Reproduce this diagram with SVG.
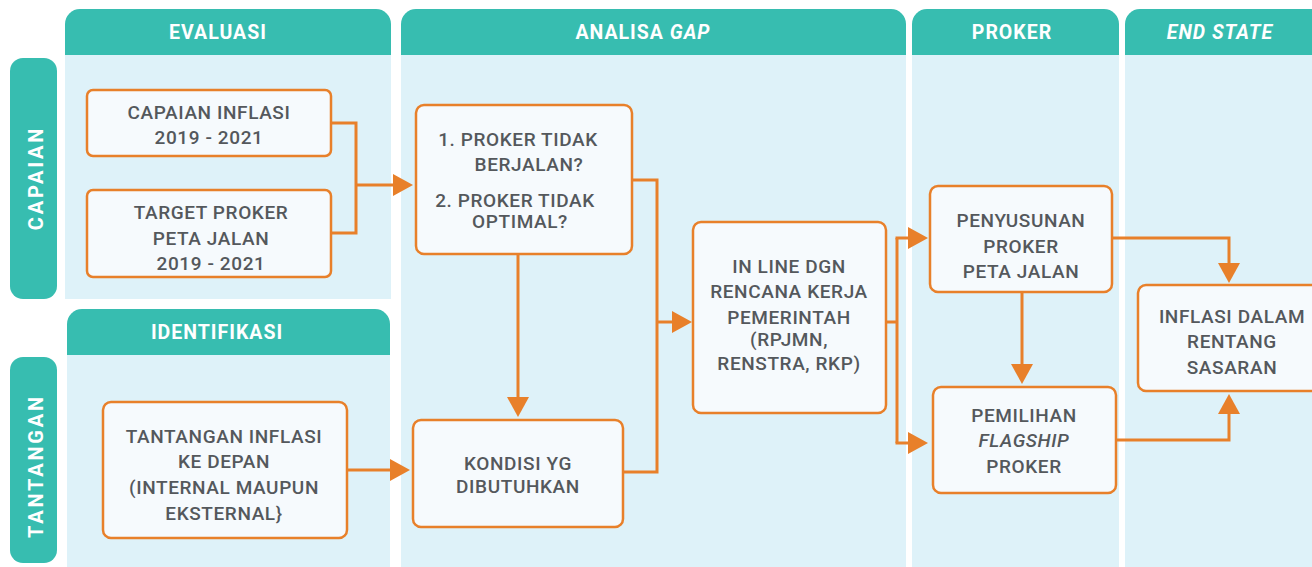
<svg xmlns="http://www.w3.org/2000/svg" width="1312" height="567" viewBox="0 0 1312 567">
<defs>
<style>
.hdr{fill:#37BDB0}
.body{fill:#DEF2F9}
.box{fill:#F6FAFD;stroke:#E8802A;stroke-width:2.5}
.ht{font-family:"Roboto","Liberation Sans",sans-serif;font-weight:700;font-size:19.5px;fill:#FFFFFF;text-anchor:middle;letter-spacing:1px}
.vt{font-family:"Roboto","Liberation Sans",sans-serif;font-weight:700;font-size:20px;fill:#FFFFFF;text-anchor:middle;letter-spacing:2.8px}
.t{font-family:"Roboto","Liberation Sans",sans-serif;font-weight:500;font-size:19px;fill:#54585C;text-anchor:middle;letter-spacing:0.6px}
.c{fill:none;stroke:#E8802A;stroke-width:3}
.a{marker-end:url(#ah)}
</style>
<marker id="ah" markerUnits="userSpaceOnUse" markerWidth="22" markerHeight="22" viewBox="0 0 22 22" refX="2" refY="11" orient="auto">
<path d="M0,0 L20,11 L0,22 Z" fill="#E8802A"/>
</marker>
</defs>
<rect width="1312" height="567" fill="#FFFFFF"/>

<g id="lanes">
<rect class="body" x="65" y="55" width="326" height="244"/>
<path class="hdr" d="M65 55 V24 A15 15 0 0 1 80 9 H376 A15 15 0 0 1 391 24 V55 Z"/>
<text class="ht" x="218" y="39">EVALUASI</text>

<rect class="body" x="67" y="355" width="323" height="212"/>
<path class="hdr" d="M67 355 V324 A15 15 0 0 1 82 309 H375 A15 15 0 0 1 390 324 V355 Z"/>
<text class="ht" x="217" y="339">IDENTIFIKASI</text>

<rect class="body" x="401" y="55" width="505" height="512"/>
<path class="hdr" d="M401 55 V24 A15 15 0 0 1 416 9 H891 A15 15 0 0 1 906 24 V55 Z"/>
<text class="ht" x="643" y="39">ANALISA <tspan font-style="italic">GAP</tspan></text>

<rect class="body" x="912" y="55" width="207" height="512"/>
<path class="hdr" d="M912 55 V24 A15 15 0 0 1 927 9 H1104 A15 15 0 0 1 1119 24 V55 Z"/>
<text class="ht" x="1012" y="39">PROKER</text>

<rect class="body" x="1125" y="55" width="200" height="512"/>
<path class="hdr" d="M1125 55 V24 A15 15 0 0 1 1140 9 H1330 V55 Z"/>
<text class="ht" x="1220" y="39" font-style="italic">END STATE</text>

<rect class="hdr" x="10" y="58" width="47" height="241" rx="13"/>
<text class="vt" transform="translate(43,178) rotate(-90)" x="0" y="0">CAPAIAN</text>
<rect class="hdr" x="10" y="357" width="47" height="206" rx="13"/>
<text class="vt" transform="translate(43,466) rotate(-90)" x="0" y="0">TANTANGAN</text>
</g>

<g id="connectors">
<path class="c" d="M331 123 H356 V233 H331"/>
<path class="c a" d="M356 185 H395"/>
<path class="c" d="M632 180 H657 V472 H623"/>
<path class="c a" d="M657 322 H674"/>
<path class="c a" d="M518 254 V399"/>
<path class="c a" d="M347 470 H392"/>
<path class="c" d="M886 322 H897"/>
<path class="c" d="M897 238 V443"/>
<path class="c a" d="M895.5 238 H910"/>
<path class="c a" d="M895.5 443 H910"/>
<path class="c a" d="M1022 292 V366"/>
<path class="c a" d="M1112 238 H1229 V265"/>
<path class="c a" d="M1116 440 H1229 V412"/>
</g>

<g id="capaian-inflasi">
<rect class="box" x="87" y="90" width="244" height="66" rx="6"/>
<text class="t" x="209" y="119">CAPAIAN INFLASI</text>
<text class="t" x="209" y="144">2019 - 2021</text>
</g>

<g id="target-proker">
<rect class="box" x="87" y="190" width="244" height="87" rx="6"/>
<text class="t" x="211" y="219">TARGET PROKER</text>
<text class="t" x="211" y="245">PETA JALAN</text>
<text class="t" x="211" y="270">2019 - 2021</text>
</g>

<g id="tantangan-inflasi">
<rect class="box" x="103" y="402" width="244" height="136" rx="8"/>
<text class="t" x="224" y="443">TANTANGAN INFLASI</text>
<text class="t" x="224" y="468">KE DEPAN</text>
<text class="t" x="224" y="494">(INTERNAL MAUPUN</text>
<text class="t" x="224" y="520">EKSTERNAL}</text>
</g>

<g id="proker-tidak">
<rect class="box" x="416" y="105" width="216" height="149" rx="8"/>
<text class="t" x="518" y="146">1. PROKER TIDAK</text>
<text class="t" x="529" y="171">BERJALAN?</text>
<text class="t" x="515" y="207">2.  PROKER TIDAK</text>
<text class="t" x="520" y="228">OPTIMAL?</text>
</g>

<g id="kondisi">
<rect class="box" x="413" y="420" width="210" height="107" rx="8"/>
<text class="t" x="518" y="470">KONDISI YG</text>
<text class="t" x="518" y="493">DIBUTUHKAN</text>
</g>

<g id="in-line">
<rect class="box" x="693" y="222" width="193" height="191" rx="8"/>
<text class="t" x="789" y="273">IN LINE DGN</text>
<text class="t" x="789" y="298">RENCANA KERJA</text>
<text class="t" x="789" y="324">PEMERINTAH</text>
<text class="t" x="789" y="346">(RPJMN,</text>
<text class="t" x="789" y="370">RENSTRA, RKP)</text>
</g>

<g id="penyusunan">
<rect class="box" x="930" y="186" width="182" height="106" rx="8"/>
<text class="t" x="1021" y="227">PENYUSUNAN</text>
<text class="t" x="1021" y="253">PROKER</text>
<text class="t" x="1021" y="278">PETA JALAN</text>
</g>

<g id="pemilihan">
<rect class="box" x="933" y="387" width="183" height="106" rx="8"/>
<text class="t" x="1024" y="422">PEMILIHAN</text>
<text class="t" x="1024" y="447" font-style="italic">FLAGSHIP</text>
<text class="t" x="1024" y="473">PROKER</text>
</g>

<g id="inflasi-dalam">
<rect class="box" x="1138" y="285" width="190" height="106" rx="8"/>
<text class="t" x="1232" y="323">INFLASI DALAM</text>
<text class="t" x="1232" y="348">RENTANG</text>
<text class="t" x="1232" y="374">SASARAN</text>
</g>
</svg>
